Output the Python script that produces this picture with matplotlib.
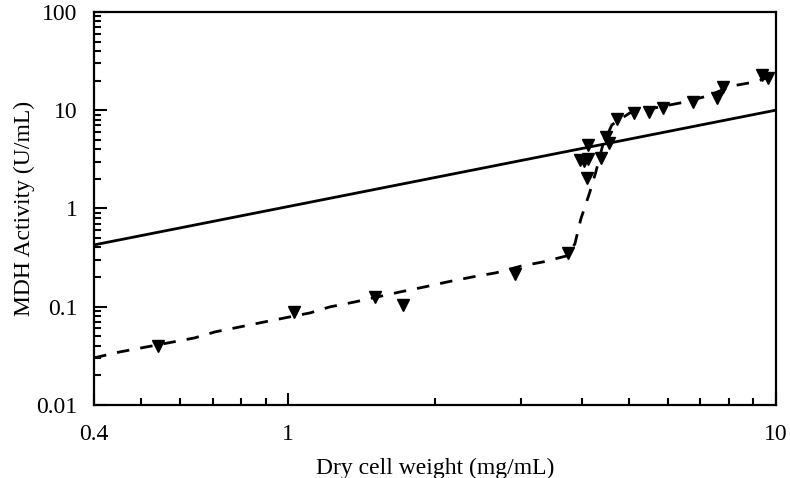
import numpy as np
import matplotlib
matplotlib.use('Agg')
import matplotlib.pyplot as plt
from matplotlib.ticker import FixedLocator, NullFormatter

# measured MDH activity (triangles)
dcw_pts = [0.54, 1.03, 1.51, 1.72, 2.92, 3.75, 3.96, 4.04, 4.12, 4.10, 4.12,
           4.38, 4.48, 4.55, 4.72, 5.12, 5.49, 5.87, 6.76, 7.57, 7.79, 9.36, 9.63]
mdh_pts = [0.040, 0.088, 0.126, 0.104, 0.215, 0.35, 3.12, 3.05, 3.19, 2.04, 4.43,
           3.27, 5.34, 4.64, 8.15, 9.38, 9.6, 10.5, 12.1, 13.3, 17.2, 22.8, 21.3]

# fitted curve (dashed)
dcw_fit = [0.4, 0.452, 0.54, 0.644, 0.708, 0.797, 0.896, 1.009, 1.109, 1.218, 1.371,
           1.696, 1.908, 2.127, 2.393, 2.668, 3.016, 3.331, 3.729, 3.873, 3.984,
           4.157, 4.276, 4.419, 4.612, 5.02, 5.785, 6.51, 7.26, 8.12, 9.06, 10]
mdh_fit = [0.0301, 0.0346, 0.0408, 0.0481, 0.0553, 0.0622, 0.070, 0.0787, 0.0863,
           0.0994, 0.1117, 0.141, 0.159, 0.179, 0.201, 0.221, 0.260, 0.285, 0.329,
           0.435, 0.782, 1.47, 2.35, 4.43, 7.08, 9.38, 10.8, 12.1, 14.0, 17.6, 19.4, 22.8]

# reference line (solid)
dcw_line = [0.4, 10]
mdh_line = [0.425, 10]

x_ticks = [0.4, 1, 10]
x_ticklabels = ['0.4', '1', '10']
y_ticks = [0.01, 0.1, 1, 10, 100]
y_ticklabels = ['0.01', '0.1', '1', '10', '100']

plt.rcParams['font.family'] = ['Liberation Serif', 'DejaVu Serif']

fig = plt.figure(figsize=(7.9, 4.78), dpi=100)
ax = fig.add_axes([0.119, 0.153, 0.863, 0.822])

ax.plot(dcw_line, mdh_line, color='black', lw=2.0, solid_capstyle='butt')
ax.plot(dcw_fit, mdh_fit, color='black', lw=2.0, dashes=(4.5, 4))
ax.plot(dcw_pts, mdh_pts, linestyle='none', marker='v', color='black', ms=9)

ax.set_xscale('log')
ax.set_yscale('log')
ax.set_xlim(0.4, 10)
ax.set_ylim(0.01, 100)

ax.xaxis.set_major_locator(FixedLocator(x_ticks))
ax.set_xticklabels(x_ticklabels)
minor_x = [0.5, 0.6, 0.7, 0.8, 0.9] + list(range(2, 10))
ax.xaxis.set_minor_locator(FixedLocator(minor_x))
ax.xaxis.set_minor_formatter(NullFormatter())

ax.yaxis.set_major_locator(FixedLocator(y_ticks))
ax.set_yticklabels(y_ticklabels)
minor_y = [m * 10.0 ** e for e in range(-2, 2) for m in range(2, 10)]
ax.yaxis.set_minor_locator(FixedLocator(minor_y))
ax.yaxis.set_minor_formatter(NullFormatter())

ax.tick_params(which='major', direction='in', length=9, width=1.5, labelsize=17)
ax.tick_params(axis='y', which='major', pad=12)
ax.tick_params(axis='x', which='major', pad=14)
ax.tick_params(which='minor', direction='in', length=5, width=1.5)
ax.tick_params(top=False, right=False)
for s in ax.spines.values():
    s.set_linewidth(1.6)

ax.set_xlabel('Dry cell weight (mg/mL)', fontsize=17, labelpad=9)
ax.set_ylabel('MDH Activity (U/mL)', fontsize=17, labelpad=1)

fig.savefig('out.png', dpi=100)
